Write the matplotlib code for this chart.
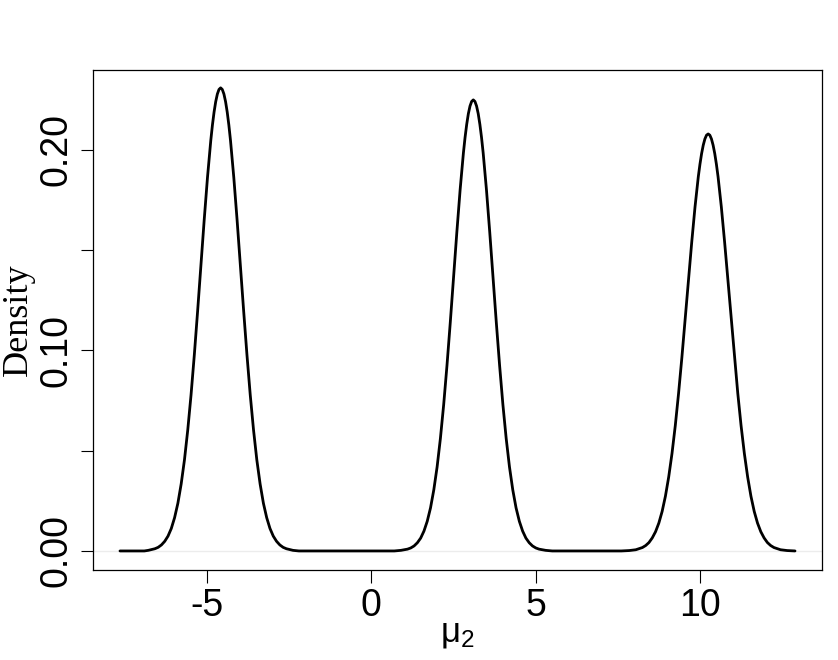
import matplotlib
matplotlib.use("Agg")
import matplotlib.pyplot as plt

plt.rcParams['mathtext.fontset'] = 'custom'
plt.rcParams['mathtext.rm'] = 'Liberation Sans'
plt.rcParams['mathtext.it'] = 'Liberation Sans'
plt.rcParams['mathtext.default'] = 'regular'

# Density curve of mu_2
mu2 = [
    -7.64, -7.20, -6.90,
    -6.78, -6.58, -6.48, -6.38, -6.28, -6.18, -6.08, -5.98, -5.88, -5.78, -5.68,
    -5.58, -5.48, -5.38, -5.28, -5.18, -5.08, -4.98, -4.88, -4.83, -4.78, -4.73,
    -4.68, -4.63, -4.58, -4.53, -4.48, -4.43, -4.38, -4.33, -4.28,
    -4.18, -4.08, -3.98, -3.88, -3.78, -3.68, -3.58, -3.48,
    -3.38, -3.28, -3.18, -3.08, -2.98, -2.88, -2.78, -2.68, -2.58, -2.38,
    -2.20, -1.00, 0.00, 0.70,
    0.90, 1.10, 1.20, 1.30, 1.40, 1.50, 1.60, 1.70, 1.80, 1.90, 2.00, 2.10, 2.20,
    2.30, 2.40, 2.50, 2.60, 2.70, 2.80, 2.85, 2.90, 2.95, 3.00, 3.05, 3.10,
    3.15, 3.20, 3.25, 3.30, 3.35, 3.40, 3.50, 3.60, 3.70, 3.80, 3.90, 4.00,
    4.10, 4.20, 4.30, 4.40, 4.50, 4.60, 4.70, 4.80, 4.90, 5.00, 5.10, 5.30,
    5.50, 6.50, 7.60,
    7.84, 8.04, 8.24, 8.34, 8.44, 8.54, 8.64, 8.74, 8.84, 8.94, 9.04, 9.14, 9.24,
    9.34, 9.44, 9.54, 9.64, 9.74, 9.84, 9.94, 9.99, 10.04, 10.09, 10.14, 10.19, 10.24,
    10.29, 10.34, 10.39, 10.44, 10.49, 10.54, 10.64, 10.74, 10.84, 10.94, 11.04,
    11.14, 11.24, 11.34, 11.44, 11.54, 11.64, 11.74, 11.84, 11.94, 12.04, 12.14,
    12.24, 12.44, 12.64,
    12.88,
]
density = [
    0.0, 0.0, 0.0,
    0.0003, 0.0011, 0.0018, 0.0030, 0.0048, 0.0074, 0.0112, 0.0166, 0.0238, 0.0334, 0.0454,
    0.0603, 0.0778, 0.0978, 0.1196, 0.1424, 0.1651, 0.1863, 0.2047, 0.2124, 0.2189, 0.2241,
    0.2279, 0.2302, 0.2310, 0.2302, 0.2279, 0.2241, 0.2189, 0.2124, 0.2047,
    0.1863, 0.1651, 0.1424, 0.1196, 0.0978, 0.0778, 0.0603, 0.0454,
    0.0334, 0.0238, 0.0166, 0.0112, 0.0074, 0.0048, 0.0030, 0.0018, 0.0011, 0.0003,
    0.0, 0.0, 0.0, 0.0,
    0.0003, 0.0009, 0.0015, 0.0025, 0.0041, 0.0064, 0.0099, 0.0148, 0.0215, 0.0305, 0.0419, 0.0561, 0.0730,
    0.0925, 0.1139, 0.1365, 0.1590, 0.1802, 0.1986, 0.2063, 0.2128, 0.2181, 0.2219, 0.2242, 0.2250,
    0.2242, 0.2219, 0.2181, 0.2128, 0.2063, 0.1986, 0.1802, 0.1590, 0.1365, 0.1139, 0.0925, 0.0730,
    0.0561, 0.0419, 0.0305, 0.0215, 0.0148, 0.0099, 0.0064, 0.0041, 0.0025, 0.0015, 0.0009, 0.0003,
    0.0, 0.0, 0.0,
    0.0002, 0.0006, 0.0017, 0.0027, 0.0042, 0.0065, 0.0096, 0.0139, 0.0197, 0.0273, 0.0369, 0.0486, 0.0625,
    0.0786, 0.0964, 0.1154, 0.1350, 0.1540, 0.1716, 0.1867, 0.1929, 0.1982, 0.2024, 0.2055, 0.2074, 0.2080,
    0.2074, 0.2055, 0.2024, 0.1982, 0.1929, 0.1867, 0.1716, 0.1540, 0.1350, 0.1154, 0.0964,
    0.0786, 0.0625, 0.0486, 0.0369, 0.0273, 0.0197, 0.0139, 0.0096, 0.0065, 0.0042, 0.0027,
    0.0017, 0.0006, 0.0002,
    0.0,
]

x_ticks = [-5, 0, 5, 10]
x_tick_labels = ["-5", "0", "5", "10"]
y_ticks = [0.00, 0.05, 0.10, 0.15, 0.20]
y_tick_labels = ["0.00", "", "0.10", "", "0.20"]

fig = plt.figure(figsize=(8.38, 6.60), dpi=100)
ax = fig.add_axes([93/838, 90/660, (822-93)/838, (570-70)/660])

ax.axhline(0, color='#ececec', lw=1.0, zorder=1)
ax.plot(mu2, density, color='black', lw=2.0, solid_joinstyle='round',
        solid_capstyle='round', zorder=3)

ax.set_xlim(-8.46, 13.70)
ax.set_ylim(-0.0095, 0.2399)

ax.set_xticks(x_ticks)
ax.set_xticklabels(x_tick_labels, fontfamily='Liberation Sans', fontsize=27)
ax.set_yticks(y_ticks)
ax.set_yticklabels(y_tick_labels, fontfamily='Liberation Sans', fontsize=27,
                   rotation=90, va='center')

ax.tick_params(axis='both', direction='out', length=9, width=0.8, color='black')
ax.tick_params(axis='x', pad=4)
ax.tick_params(axis='y', pad=4)

for sp in ax.spines.values():
    sp.set_linewidth(0.9)
    sp.set_color('black')

fig.text(18/838, 1 - 320/660, "Density", rotation=90, ha='center', va='center',
         fontfamily='Liberation Serif', fontsize=26)
fig.text(457/838, 1 - 634/660, "μ$_{2}$", ha='center', va='center',
         fontfamily='Liberation Sans', fontsize=25)

fig.savefig("out.png", dpi=100)
